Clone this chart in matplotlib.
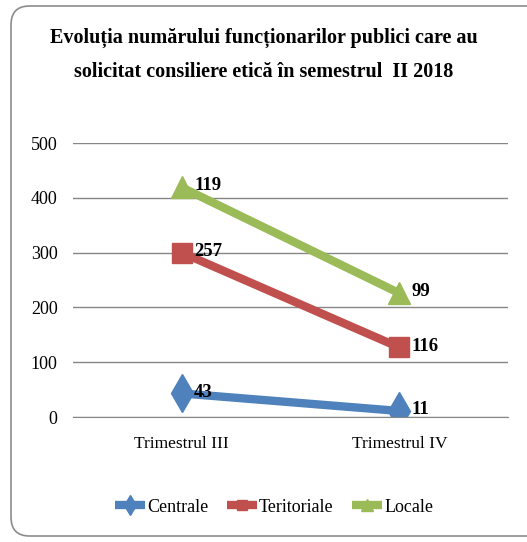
import numpy as np
import matplotlib.pyplot as plt
from matplotlib.patches import FancyBboxPatch

plt.rcParams['font.family'] = ['Liberation Serif', 'DejaVu Serif']

categories = ['Trimestrul III', 'Trimestrul IV']
series_names = ['Centrale', 'Teritoriale', 'Locale']
centrale = [43, 11]
teritoriale = [257, 116]
locale = [119, 99]

colors = ['#4F81BD', '#C0504D', '#9BBB59']
markers = ['d', 's', '^']
msizes = [19, 14, 16]

title = 'Evoluția numărului funcționarilor publici care au\nsolicitat consiliere etică în semestrul  II 2018'

fig = plt.figure(figsize=(5.27, 5.42), dpi=100)
ax = fig.add_axes([73 / 527, 1 - 417 / 542, 435 / 527, 274 / 542])

# chart border with rounded corners
border = FancyBboxPatch((11 / 527, 6 / 542), 540 / 527, 530 / 542,
                        boxstyle='round,pad=0,rounding_size=0.035',
                        transform=fig.transFigure, facecolor='none',
                        edgecolor='#8c8c8c', linewidth=1.2, clip_on=False)
fig.patches.append(border)

values = np.array([centrale, teritoriale, locale])
stacked = np.cumsum(values, axis=0)
x = np.arange(len(categories))

for name, vals, tops, c, m, ms in zip(series_names, values, stacked, colors, markers, msizes):
    ax.plot(x, tops, color=c, linewidth=6, marker=m, markersize=ms,
            label=name, solid_capstyle='butt')
    for xi, yi, v in zip(x, tops, vals):
        ax.annotate(str(v), (xi, yi), xytext=(9, 1), textcoords='offset points',
                    ha='left', va='center', fontsize=13.5, fontweight='bold')

ax.set_xlim(-0.5, 1.5)
ax.set_ylim(0, 500)
ax.set_yticks(range(0, 501, 100))
ax.set_xticks(x)
ax.set_xticklabels(categories, fontsize=12.5)
ax.tick_params(axis='y', labelsize=13, length=0, pad=11)
ax.tick_params(axis='x', length=0, pad=14)
ax.grid(axis='y', color='#868686', linewidth=1)
ax.set_axisbelow(True)
for side in ['left', 'right', 'top']:
    ax.spines[side].set_visible(False)
ax.spines['bottom'].set_color('#868686')

fig.text(0.5, 1 - 55 / 542, title, ha='center', va='center', fontsize=14.5,
         fontweight='bold', linespacing=1.9)

fig.legend(loc='center', bbox_to_anchor=(0.52, 1 - 507 / 542), ncol=3,
           frameon=False, fontsize=13, handlelength=1.7, handletextpad=0.1,
           columnspacing=1.0, markerscale=0.55)

fig.savefig('out.png', dpi=100)
